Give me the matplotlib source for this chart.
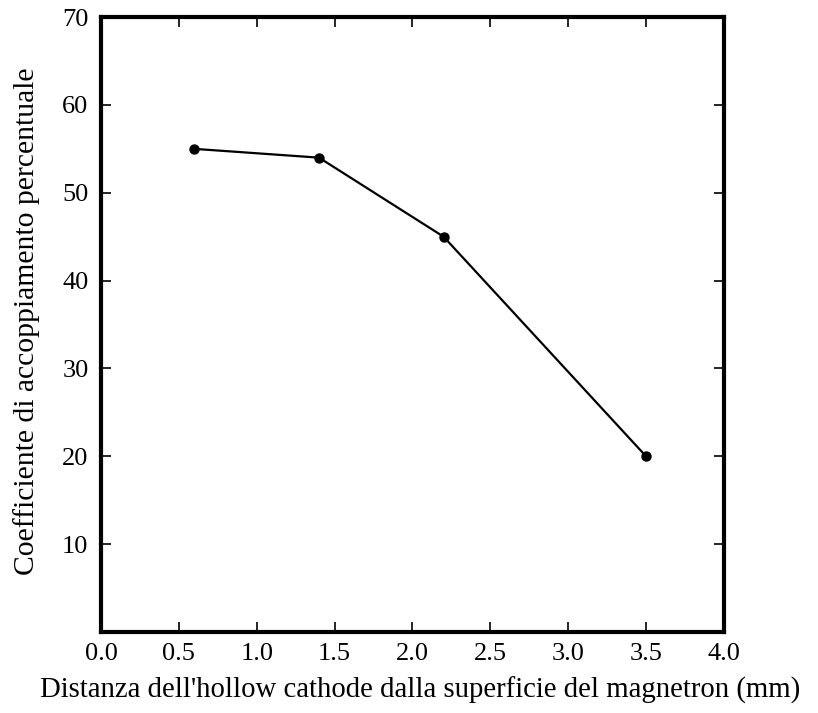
import matplotlib
matplotlib.use("Agg")
import matplotlib.pyplot as plt

distance = [0.6, 1.4, 2.2, 3.5]
coupling = [55, 54, 45, 20]
xticks = [0.0, 0.5, 1.0, 1.5, 2.0, 2.5, 3.0, 3.5, 4.0]
xticklabels = ["0.0", "0.5", "1.0", "1.5", "2.0", "2.5", "3.0", "3.5", "4.0"]
yticks = [10, 20, 30, 40, 50, 60, 70]
yticklabels = ["10", "20", "30", "40", "50", "60", "70"]

plt.rcParams['font.family'] = ['Liberation Serif', 'DejaVu Serif']

fig = plt.figure(figsize=(8.18, 7.13), dpi=100)
ax = fig.add_axes([0.1235, 0.1136, 0.7615, 0.8624])

ax.plot(distance, coupling, color='black', linewidth=1.6, marker='o', markersize=6.5)

ax.set_xlim(0, 4)
ax.set_ylim(0, 70)
ax.set_xticks(xticks)
ax.set_xticklabels(xticklabels)
ax.set_yticks(yticks)
ax.set_yticklabels(yticklabels)
ax.tick_params(direction='in', length=7, width=1.2, top=True, right=True,
               labelsize=19)
ax.tick_params(axis='x', pad=8)
ax.tick_params(axis='y', pad=9)
for s in ax.spines.values():
    s.set_linewidth(3)

ax.set_xlabel("Distanza dell'hollow cathode dalla superficie del magnetron (mm)", fontsize=20.7, labelpad=8)
ax.xaxis.label.set_x(0.512)
ax.set_ylabel("Coefficiente di accoppiamento percentuale", fontsize=21.3)
ax.yaxis.set_label_coords(-0.098, 0.506)

fig.savefig("out.png", dpi=100)
